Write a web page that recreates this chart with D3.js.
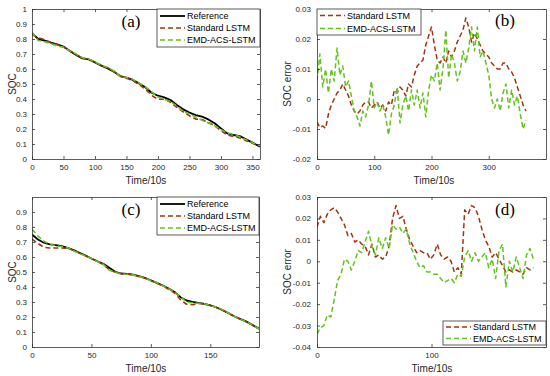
<!DOCTYPE html>
<html>
<head>
<meta charset="utf-8">
<script src="https://cdn.jsdelivr.net/npm/d3@7/dist/d3.min.js"></script>
<style>
  body { margin: 0; background: #fff; }
  text { font-family: "Liberation Sans", Arial, sans-serif; fill: #262626; }
</style>
</head>
<body>
<div id="chart"></div>
<script>
/* data */

var seriesNames = ["Reference", "Standard LSTM", "EMD-ACS-LSTM"];

// (a) SOC, sampled every 10 steps
var timeA = [0,10,20,30,40,50,60,70,80,90,100,110,120,130,140,150,160,170,180,190,200,
             210,220,230,240,250,260,270,280,290,300,310,320,330,340,350,362];
var refA = [0.838,0.800,0.790,0.776,0.765,0.750,0.720,0.693,0.671,0.664,0.644,0.622,0.604,0.582,0.553,0.542,0.527,0.504,0.478,0.442,0.422,
            0.411,0.393,0.360,0.331,0.309,0.293,0.282,0.264,0.238,0.204,0.171,0.160,0.153,0.131,0.109,0.082];
var stdA = [0.830,0.809,0.795,0.776,0.762,0.747,0.722,0.698,0.673,0.665,0.646,0.625,0.608,0.584,0.551,0.539,0.522,0.496,0.466,0.424,0.398,
            0.398,0.379,0.344,0.315,0.288,0.266,0.263,0.244,0.222,0.190,0.160,0.150,0.141,0.122,0.105,0.085];
var emdA = [0.845,0.790,0.782,0.770,0.754,0.744,0.721,0.699,0.675,0.666,0.647,0.626,0.610,0.587,0.549,0.544,0.531,0.506,0.481,0.448,0.414,
            0.399,0.383,0.353,0.319,0.300,0.281,0.258,0.240,0.222,0.196,0.174,0.164,0.148,0.128,0.108,0.090];

// (b) SOC error, every 5 steps from 0 to 365
var stepB = 5;
var errStdB = [-0.0076,-0.0095,-0.009,-0.0098,-0.005,-0.002,0.000,0.002,0.003,0.005,
               0.003,0.001,-0.002,-0.004,-0.005,-0.004,-0.002,-0.001,-0.001,-0.003,
               -0.002,-0.001,-0.003,-0.002,-0.004,-0.001,-0.002,0.003,0.002,0.004,
               0.003,0.001,0.005,0.004,0.008,0.011,0.012,0.013,0.018,0.021,
               0.024,0.018,0.013,0.012,0.014,0.012,0.016,0.014,0.016,0.019,
               0.021,0.023,0.027,0.024,0.019,0.022,0.020,0.018,0.016,0.015,
               0.014,0.012,0.011,0.010,0.010,0.012,0.012,0.010,0.009,0.007,
               0.004,0.001,-0.002,-0.004];
var errEmdB = [0.006,0.015,0.004,0.010,0.002,0.010,0.006,0.017,0.008,0.011,
               0.004,0.006,0.001,-0.004,-0.006,-0.009,-0.004,-0.006,-0.002,0.006,
               -0.003,-0.001,-0.004,-0.002,-0.006,-0.012,-0.005,-0.002,0.004,-0.008,
               -0.002,0.001,-0.004,0.003,-0.002,0.003,-0.003,0.002,-0.006,0.003,
               0.008,0.006,0.012,0.003,0.010,0.023,0.007,0.015,0.012,0.006,
               0.009,0.016,0.012,0.017,0.024,0.016,0.024,0.014,0.016,0.012,
               0.008,0.000,-0.003,0.000,-0.004,0.002,0.005,-0.003,0.003,-0.002,
               0.001,-0.005,-0.010,-0.007];

// (c) SOC, every 5 steps
var timeC = [0,5,10,15,20,25,30,35,40,45,50,55,60,65,70,75,80,85,90,95,100,
             105,110,115,120,125,130,135,140,145,150,155,160,165,170,175,180,185,191];
var refC = [0.750,0.717,0.695,0.684,0.679,0.673,0.661,0.646,0.628,0.610,0.590,0.572,0.555,0.528,0.501,0.490,0.488,0.483,0.472,0.461,0.445,
            0.428,0.410,0.390,0.367,0.332,0.310,0.301,0.294,0.287,0.278,0.265,0.247,0.227,0.205,0.187,0.171,0.149,0.122];
var stdC = [0.720,0.690,0.665,0.660,0.660,0.660,0.658,0.645,0.625,0.608,0.590,0.570,0.550,0.515,0.500,0.488,0.486,0.482,0.470,0.458,0.442,
            0.425,0.408,0.385,0.360,0.315,0.285,0.282,0.290,0.288,0.278,0.264,0.246,0.227,0.206,0.188,0.170,0.150,0.125];
var emdC = [0.785,0.740,0.705,0.685,0.675,0.670,0.662,0.642,0.622,0.607,0.590,0.570,0.552,0.512,0.498,0.487,0.485,0.481,0.471,0.460,0.444,
            0.430,0.408,0.388,0.365,0.335,0.300,0.295,0.292,0.288,0.276,0.266,0.250,0.228,0.205,0.186,0.170,0.148,0.120];

// (d) SOC error, every 3 steps from 0 to 189
var stepD = 3;
var errStdD = [0.016,0.021,0.018,0.022,0.024,0.025,0.023,0.020,0.017,0.012,
               0.013,0.009,0.010,0.008,0.007,0.003,0.008,0.002,0.003,0.001,
               0.002,0.007,0.020,0.026,0.020,0.021,0.015,0.010,0.007,0.004,
               0.005,0.004,0.004,0.001,0.003,0.008,0.003,0.001,0.002,0.000,
               -0.005,-0.003,-0.006,0.024,0.022,0.026,0.025,0.021,0.015,0.010,
               0.007,0.002,0.004,0.001,-0.002,-0.005,-0.004,-0.005,-0.004,-0.005,
               -0.006,-0.003,-0.004,-0.003];
var errEmdD = [-0.034,-0.031,-0.030,-0.025,-0.026,-0.018,-0.009,-0.006,0.001,0.000,
               -0.004,0.000,0.005,0.004,0.009,0.014,0.007,0.003,0.011,0.006,
               0.011,0.006,0.017,0.015,0.016,0.013,0.015,0.008,0.004,0.000,
               -0.003,-0.002,-0.005,-0.005,-0.006,-0.006,-0.008,-0.010,-0.009,-0.008,
               -0.010,-0.006,-0.007,0.002,0.005,0.000,0.004,0.000,0.002,0.004,
               -0.003,0.001,-0.008,0.005,0.008,-0.012,0.000,-0.005,0.002,-0.003,
               -0.008,0.003,0.006,0.001];

// tick values
var xTicksA = [0,50,100,150,200,250,300,350];
var xTicksB = [0,100,200,300,400];
var xTicksC = [0,50,100,150];
var xTicksD = [0,100,200];
var yTicksSoc = [0,0.1,0.2,0.3,0.4,0.5,0.6,0.7,0.8,0.9,1];
var yTicksErrB = [-0.02,-0.01,0,0.01,0.02,0.03];
var yTicksErrD = [-0.04,-0.03,-0.02,-0.01,0,0.01,0.02,0.03];

/* styles */
var colRef = "#000000", colStd = "#A2340F", colEmd = "#62C21E";

var svg = d3.select("#chart").append("svg")
    .attr("width", 550)
    .attr("height", 376);

function fmtTick(d){ return String(+d.toFixed(2)); }

function drawPanel(p){
  var x = d3.scaleLinear().domain(p.xDomain).range([p.left, p.right]);
  var y = d3.scaleLinear().domain(p.yDomain).range([p.bottom, p.top]);
  var g = svg.append("g").attr("class", "panel-" + p.id);

  g.append("clipPath").attr("id", "clip-" + p.id)
    .append("rect")
      .attr("x", p.left).attr("y", p.top)
      .attr("width", p.right - p.left).attr("height", p.bottom - p.top);

  var line = d3.line()
    .x(function(d){ return x(d[0]); })
    .y(function(d){ return y(d[1]); });

  p.series.forEach(function(s){
    var pts = s.v.map(function(v, i){ return [s.t[i], v]; });
    g.append("path")
      .datum(pts)
      .attr("clip-path", "url(#clip-" + p.id + ")")
      .attr("fill", "none")
      .attr("stroke", s.color)
      .attr("stroke-width", s.width)
      .attr("stroke-dasharray", s.dash || null)
      .attr("stroke-linejoin", "round")
      .attr("d", line);
  });

  // box axes, ticks pointing inwards
  var xt = p.xTicks.filter(function(t){ return t < p.xDomain[1]; });
  var yt = p.yTicks;
  g.append("g").attr("transform", "translate(0," + p.bottom + ")")
    .call(d3.axisBottom(x).tickValues(xt).tickSize(-3).tickSizeOuter(0).tickPadding(5).tickFormat(fmtTick));
  g.append("g").attr("transform", "translate(0," + p.top + ")")
    .call(d3.axisTop(x).tickValues(xt).tickSize(-3).tickSizeOuter(0).tickFormat(""));
  g.append("g").attr("transform", "translate(" + p.left + ",0)")
    .call(d3.axisLeft(y).tickValues(yt).tickSize(-3).tickSizeOuter(0).tickPadding(p.yPad).tickFormat(fmtTick));
  g.append("g").attr("transform", "translate(" + p.right + ",0)")
    .call(d3.axisRight(y).tickValues(yt).tickSize(-3).tickSizeOuter(0).tickFormat(""));

  g.selectAll(".domain").attr("stroke", "#333").attr("stroke-width", 0.8);
  g.selectAll(".tick line").attr("stroke", "#333").attr("stroke-width", 0.8);
  g.selectAll(".tick text").attr("font-size", "8px").attr("fill", "#262626");

  // axis labels
  g.append("text")
    .attr("x", p.xLabelX).attr("y", p.bottom + 25)
    .attr("text-anchor", "middle").attr("font-size", "10px")
    .text("Time/10s");
  g.append("text")
    .attr("transform", "translate(" + p.yLabelX + "," + ((p.top + p.bottom) / 2) + ") rotate(-90)")
    .attr("text-anchor", "middle").attr("font-size", "10px")
    .text(p.yLabel);

  // panel tag
  g.append("text")
    .attr("x", p.tagX).attr("y", p.tagY)
    .attr("text-anchor", "middle")
    .style("font-family", "'Liberation Serif', 'Times New Roman', serif")
    .attr("font-size", "17px").style("fill", "#000")
    .text(p.tag);

  // legend
  var L = p.legend;
  var lg = g.append("g");
  lg.append("rect")
    .attr("x", L.x).attr("y", L.y).attr("width", L.w).attr("height", L.h)
    .attr("fill", "#fff").attr("stroke", "#333").attr("stroke-width", 0.8);
  L.items.forEach(function(s, i){
    var yy = L.y + L.first + i * L.gap;
    lg.append("line")
      .attr("x1", L.x + 3).attr("x2", L.x + 28)
      .attr("y1", yy).attr("y2", yy)
      .attr("stroke", s.color).attr("stroke-width", s.width)
      .attr("stroke-dasharray", s.dash || null);
    lg.append("text")
      .attr("x", L.x + 30).attr("y", yy + 3.2)
      .attr("font-size", "9px").style("fill", "#000")
      .text(s.name);
  });
}

function steps(arr, step){ return arr.map(function(_, i){ return i * step; }); }

var dash = "5,3";
var sRefA = {name: seriesNames[0], t: timeA, v: refA, color: colRef, width: 1.8};
var sStdA = {name: seriesNames[1], t: timeA, v: stdA, color: colStd, width: 1.6, dash: dash};
var sEmdA = {name: seriesNames[2], t: timeA, v: emdA, color: colEmd, width: 1.6, dash: dash};
var sStdB = {name: seriesNames[1], t: steps(errStdB, stepB), v: errStdB, color: colStd, width: 1.5, dash: dash};
var sEmdB = {name: seriesNames[2], t: steps(errEmdB, stepB), v: errEmdB, color: colEmd, width: 1.5, dash: dash};
var sRefC = {name: seriesNames[0], t: timeC, v: refC, color: colRef, width: 1.8};
var sStdC = {name: seriesNames[1], t: timeC, v: stdC, color: colStd, width: 1.6, dash: dash};
var sEmdC = {name: seriesNames[2], t: timeC, v: emdC, color: colEmd, width: 1.6, dash: dash};
var sStdD = {name: seriesNames[1], t: steps(errStdD, stepD), v: errStdD, color: colStd, width: 1.5, dash: dash};
var sEmdD = {name: seriesNames[2], t: steps(errEmdD, stepD), v: errEmdD, color: colEmd, width: 1.5, dash: dash};

drawPanel({
  id: "a", left: 32, right: 260, top: 9, bottom: 159,
  xDomain: [0, 362], yDomain: [0, 1], xTicks: xTicksA, yTicks: yTicksSoc, yPad: 5,
  yLabel: "SOC", yLabelX: 16, xLabelX: 146,
  tag: "(a)", tagX: 131, tagY: 27,
  series: [sRefA, sStdA, sEmdA],
  legend: {x: 157, y: 9, w: 103, h: 38, first: 7, gap: 12, items: [sRefA, sStdA, sEmdA]}
});

drawPanel({
  id: "b", left: 317, right: 546, top: 9, bottom: 159,
  xDomain: [0, 400], yDomain: [-0.02, 0.03], xTicks: xTicksB, yTicks: yTicksErrB, yPad: 6,
  yLabel: "SOC error", yLabelX: 291, xLabelX: 434,
  tag: "(b)", tagX: 505, tagY: 26,
  series: [sStdB, sEmdB],
  legend: {x: 317, y: 9, w: 104, h: 26, first: 6.5, gap: 13, items: [sStdB, sEmdB]}
});

drawPanel({
  id: "c", left: 32, right: 259, top: 197, bottom: 347,
  xDomain: [0, 191], yDomain: [0, 1], xTicks: xTicksC, yTicks: yTicksSoc.slice(0, 10), yPad: 5,
  yLabel: "SOC", yLabelX: 16, xLabelX: 146,
  tag: "(c)", tagX: 131, tagY: 215,
  series: [sRefC, sStdC, sEmdC],
  legend: {x: 157, y: 197, w: 102, h: 38, first: 7, gap: 12, items: [sRefC, sStdC, sEmdC]}
});

drawPanel({
  id: "d", left: 317, right: 546, top: 197, bottom: 347,
  xDomain: [0, 200], yDomain: [-0.04, 0.03], xTicks: xTicksD, yTicks: yTicksErrD, yPad: 6,
  yLabel: "SOC error", yLabelX: 291, xLabelX: 432,
  tag: "(d)", tagX: 505, tagY: 215,
  series: [sStdD, sEmdD],
  legend: {x: 443, y: 321, w: 103, h: 24, first: 6, gap: 11.5, items: [sStdD, sEmdD]}
});
</script>
</body>
</html>
